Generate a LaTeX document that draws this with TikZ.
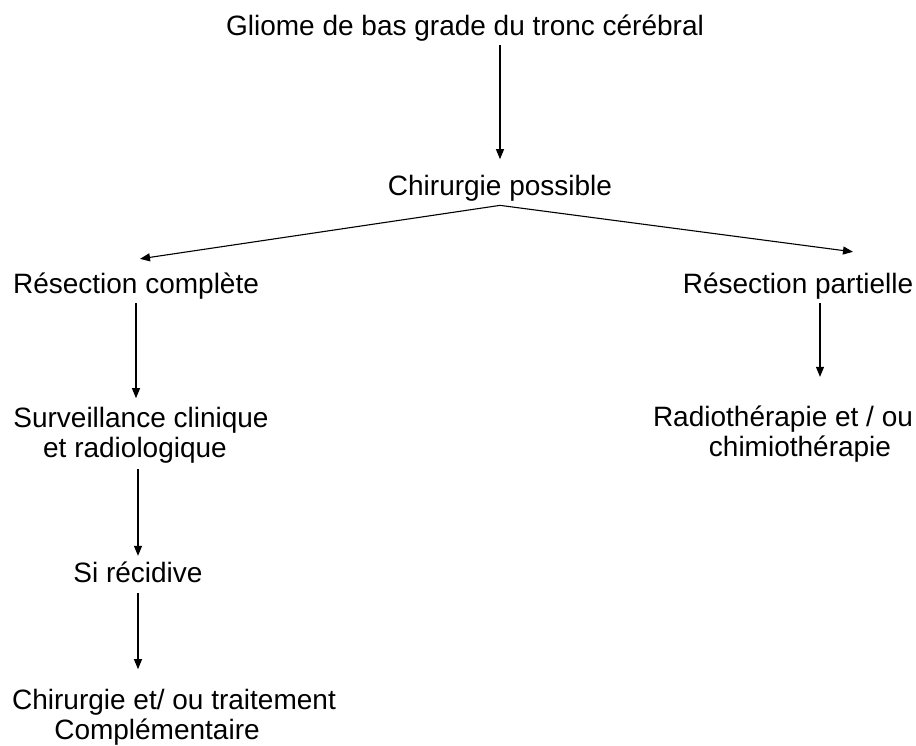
\documentclass[tikz,border=0pt]{standalone}
\usepackage{fontspec}
\setmainfont{Liberation Sans}
\usetikzlibrary{arrows.meta}

\begin{document}
\begin{tikzpicture}[x=1pt,y=-1pt,line width=1.1pt,
  txt/.style={inner sep=4pt,anchor=base,align=center,font=\fontsize{28}{30}\selectfont},
  >={Triangle[length=10pt,width=8pt]}]
\useasboundingbox (0,0) rectangle (916,745);
\node[txt](g)   at (465,35)  {Gliome de bas grade du tronc cérébral};
\node[txt](c)   at (500,195) {Chirurgie possible};
\node[txt](rc)  at (136,293) {Résection complète};
\node[txt](rp)  at (798,293) {Résection partielle};
\node[txt](sv)  at (141,457) {Surveillance clinique\\et radiologique\hspace*{12pt}};
\node[txt](rad) at (783,456) {Radiothérapie et / ou\\\hspace*{34pt}chimiothérapie};
\node[txt](sr)  at (138,582) {Si récidive};
\node[txt](ct)  at (174,739) {Chirurgie et/ ou traitement\\Complémentaire\hspace*{34pt}};

\draw[->] (g.south -| c.north) -- ([yshift=11pt]c.north);
\draw[->] (c.south) -- ([xshift=4pt,yshift=9pt]rc.north);
\draw[->] (c.south) -- ([xshift=55pt,yshift=16pt]rp.north);
\draw[->] (rc.south) -- ([yshift=4pt]rc.south |- sv.north);
\draw[->] ([xshift=22pt]rp.south) -- ([xshift=22pt,yshift=24pt]rp.south |- rad.north);
\draw[->] ([yshift=-2pt]sv.south -| sr.north) -- ([yshift=1pt]sr.north);
\draw[->] ([yshift=-6pt]sr.south) -- ([yshift=15pt]sr.south |- ct.north);
\end{tikzpicture}
\end{document}
